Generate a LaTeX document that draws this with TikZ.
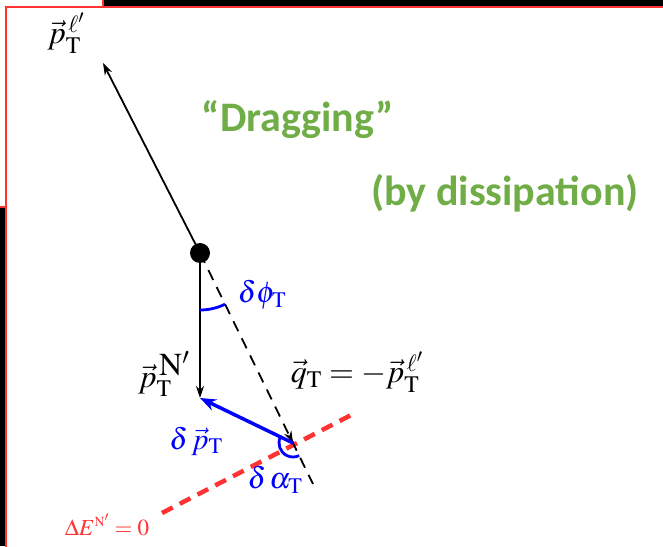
\documentclass[tikz,border=0pt]{standalone}
\usepackage{mathptmx}
\usepackage{fontspec}
\newfontfamily\calib{Carlito}
\usetikzlibrary{arrows.meta,calc}
\definecolor{ogreen}{RGB}{112,173,71}
\definecolor{lred}{RGB}{255,51,51}
\definecolor{fblue}{RGB}{0,0,255}
\tikzset{
  vecline/.style={line width=1.8pt,-{Stealth[length=12pt,width=8pt]}},
  qline/.style={line width=1.8pt,dash pattern=on 11pt off 8pt},
  blueline/.style={draw=fblue,line width=3.5pt,-{Stealth[length=16pt,width=12pt]}},
  bluearc/.style={draw=fblue,line width=2.8pt},
  redline/.style={draw=lred,line width=4.5pt,dash pattern=on 12pt off 8pt},
  mlab/.style={inner sep=0pt,font=\fontsize{32}{38}\selectfont},
  blab/.style={inner sep=0pt,text=fblue,font=\fontsize{30}{36}\selectfont},
  glab/.style={inner sep=0pt,text=ogreen,font=\calib\bfseries\fontsize{42}{50}\selectfont},
}
\begin{document}
\begin{tikzpicture}[x=1pt,y=1pt]
\useasboundingbox (0,0) rectangle (663,546);
% frames
\fill[black] (0,0) rectangle (663,546);
\draw[lred,fill=white,line width=2pt] (-10,339) rectangle (103,560);
\draw[lred,fill=white,line width=2pt] (6,-10) rectangle (675,539);
% points
\coordinate (D) at (200,293);
\coordinate (A) at (103,483);
\coordinate (N) at (200,148);
\coordinate (Q) at (293,103);
\coordinate (E) at (313,62);
\coordinate (R1) at (162,33);
\coordinate (R2) at (355,133);
% red line
\draw[redline] (R1) -- (R2);
% dashed q
\draw[qline] (D) -- (E);
\draw[vecline] ($(Q)!1pt!(D)$) -- (Q);
% arrows
\draw[vecline] (D) -- (A);
\draw[vecline] (D) -- (N);
\draw[blueline] (Q) -- (N);
% arcs
\draw[bluearc] ($(D)+(-90:57)$) arc[start angle=-90,end angle=-64,radius=57];
\draw[bluearc] ($(Q)+(154:14)$) arc[start angle=154,end angle=296,radius=14];
% dot
\fill[black] (D) circle (10);
% labels
\node[mlab] (lpl) at (66,513) {$\vec{p}_{\mathrm{T}}^{\,\ell'}$};
\node[mlab] (lpN) at (164,172) {$\vec{p}_{\mathrm{T}}^{\,\textstyle\mathrm{N}'}$};
\node[mlab] (lq) at (357,174) {$\vec{q}_{\mathrm{T}}=-\vec{p}_{\mathrm{T}}^{\,\ell'}$};
\node[blab] (ldphi) at (262,251) {$\delta\phi_{\mathrm{T}}$};
\node[blab] (ldp) at (196,105) {$\delta\,\vec{p}_{\mathrm{T}}$};
\node[blab] (ldal) at (275,66) {$\delta\,\alpha_{\mathrm{T}}$};
\node[inner sep=0pt,text=lred,font=\fontsize{23}{28}\selectfont] (lE) at (107,21) {$\Delta E^{\scriptscriptstyle\mathrm{N}'}=0$};
\node[glab] (g1) at (298,426) {“Dragging”};
\node[glab] (g2) at (505,353) {(by dissipation)};
\end{tikzpicture}
\end{document}
